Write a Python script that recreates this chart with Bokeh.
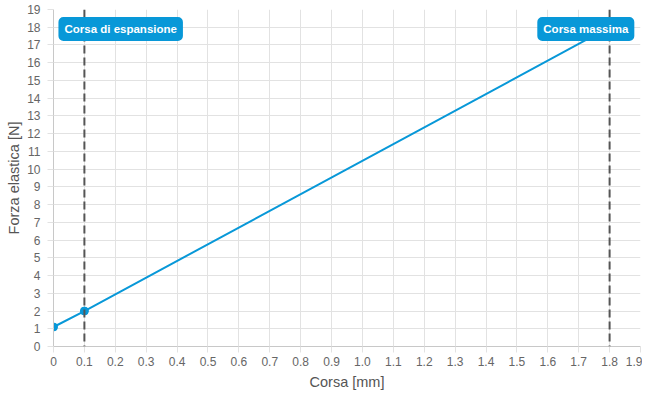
from bokeh.plotting import figure
from bokeh.models import Span, Label, FixedTicker, Range1d
from bokeh.embed import file_html
from bokeh.resources import INLINE

# data
corsa = [0.0, 0.1, 1.8]
forza = [1.1, 2.0, 18.0]
x_ticks = [round(i * 0.1, 1) for i in range(20)]
x_tick_labels = ["0", "0.1", "0.2", "0.3", "0.4", "0.5", "0.6", "0.7", "0.8", "0.9",
                 "1.0", "1.1", "1.2", "1.3", "1.4", "1.5", "1.6", "1.7", "1.8", "1.9"]
y_ticks = list(range(20))
markers = [(0.1, "Corsa di espansione"), (1.8, "Corsa massima")]

BLUE = "#0898d8"
GRID = "#e2e2e2"
FONT = "Liberation Sans"

p = figure(width=642, height=392, output_backend="svg", toolbar_location=None,
           x_range=Range1d(0, 1.9), y_range=Range1d(0, 19),
           min_border_left=53, min_border_right=2, min_border_top=9, min_border_bottom=46)
p.outline_line_color = None
p.background_fill_color = "white"

for ax in (p.xaxis[0], p.yaxis[0]):
    ax.axis_line_color = "#c8c8c8"
    ax.major_tick_line_color = GRID
    ax.major_tick_out = 6
    ax.major_tick_in = 0
    ax.minor_tick_line_color = None
    ax.major_label_text_font = FONT
    ax.major_label_text_font_size = "12px"
    ax.major_label_text_color = "#666666"
    ax.axis_label_text_font = FONT
    ax.axis_label_text_font_size = "14.5px"
    ax.axis_label_text_color = "#555555"
    ax.axis_label_text_font_style = "normal"

p.xaxis.ticker = FixedTicker(ticks=x_ticks)
p.xaxis.major_label_overrides = {t: l for t, l in zip(x_ticks, x_tick_labels)}
p.xaxis.axis_label = "Corsa [mm]"
p.xaxis.major_label_standoff = 4
p.xaxis.axis_label_standoff = 5

p.yaxis.ticker = FixedTicker(ticks=y_ticks)
p.yaxis.axis_label = "Forza elastica [N]"
p.yaxis.major_label_standoff = 7
p.yaxis.axis_label_standoff = 2

p.xgrid.grid_line_color = GRID
p.ygrid.grid_line_color = GRID
p.xgrid.ticker = FixedTicker(ticks=x_ticks)
p.ygrid.ticker = FixedTicker(ticks=y_ticks)

p.line(corsa, forza, line_color=BLUE, line_width=2)
p.scatter(corsa, forza, size=8, fill_color=BLUE, line_color=BLUE)

for xv, _ in markers:
    p.add_layout(Span(location=xv, dimension="height", line_color="#555555",
                      line_width=2, line_dash="8 4"))

lab1 = Label(x=0.016, y=17.9, text=markers[0][1], text_align="left", text_baseline="middle",
             text_color="white", text_font=FONT, text_font_size="11.5px", text_font_style="bold",
             background_fill_color=BLUE, border_radius=5, padding=6)
lab2 = Label(x=1.880, y=17.9, text=markers[1][1], text_align="right", text_baseline="middle",
             text_color="white", text_font=FONT, text_font_size="11.5px", text_font_style="bold",
             background_fill_color=BLUE, border_radius=5, padding=6)
p.add_layout(lab1)
p.add_layout(lab2)

open("out.html", "w").write(file_html(p, INLINE))
